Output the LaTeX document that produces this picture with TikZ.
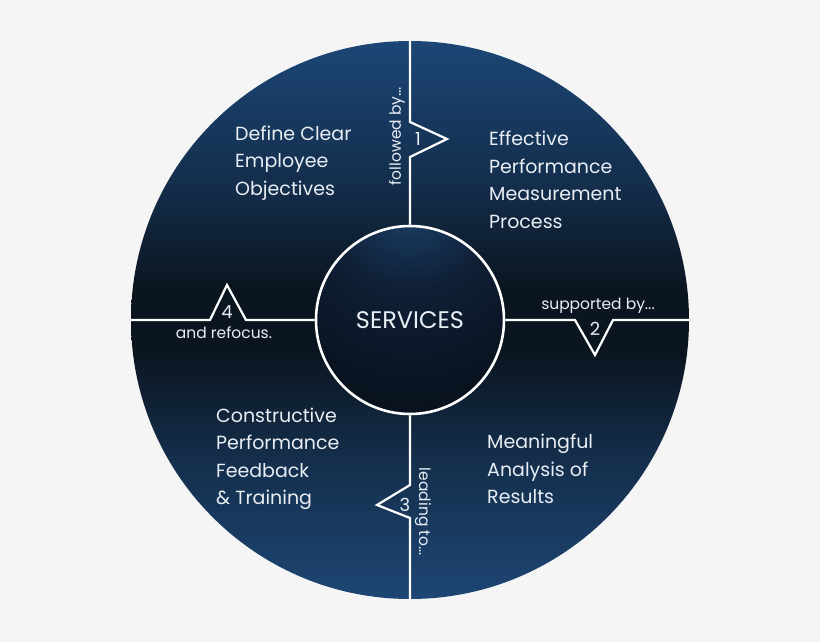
\documentclass[tikz,border=0pt]{standalone}
\usepackage{fontspec}
\setmainfont{Poppins}
\usepackage{xcolor}
\usetikzlibrary{positioning}
\definecolor{pagegray}{HTML}{F5F5F5}
\definecolor{ringtop}{HTML}{1C4676}
\definecolor{ringmid}{HTML}{0B1520}
\definecolor{ringbottom}{HTML}{1D4674}
\definecolor{hubglow}{HTML}{1F4B7A}
\definecolor{hubmid}{HTML}{0F1F35}
\definecolor{hubdark}{HTML}{04080D}
\definecolor{softwhite}{HTML}{E8EEF4}
\pgfdeclareverticalshading{ringshade}{100bp}{color(0bp)=(ringbottom); color(25bp)=(ringbottom); color(38bp)=(ringbottom!50!ringmid); color(47bp)=(ringmid); color(53bp)=(ringmid); color(62bp)=(ringtop!50!ringmid); color(75bp)=(ringtop); color(100bp)=(ringtop)}
\pgfdeclareradialshading{hubshade}{\pgfpoint{0bp}{38bp}}{color(0bp)=(hubglow); color(22bp)=(hubmid); color(60bp)=(hubdark); color(100bp)=(hubdark)}

\begin{document}
\begin{tikzpicture}[
        x=1pt, y=-1pt,
        ring/.style={circle, minimum size=558pt, inner sep=0pt, shade, shading=ringshade},
        hub/.style={circle, draw=white, line width=2.6pt, minimum size=188pt,
                    inner sep=0pt, shade, shading=hubshade, text=softwhite,
                    font=\fontsize{24}{28}\selectfont},
        link/.style={draw=white, line width=2.2pt, line join=miter},
        stage/.style={align=left, anchor=west, inner sep=0pt, text=softwhite,
                      font=\fontsize{19}{27.5}\selectfont},
        cue/.style={inner sep=0pt, text=softwhite, font=\fontsize{15.5}{18}\selectfont},
        num/.style={inner sep=0pt, text=softwhite, font=\fontsize{18}{20}\selectfont}
    ]
        \fill[pagegray] (0,0) rectangle (820,642);
        \useasboundingbox (0,0) rectangle (820,642);

        \node[ring] (ring) at (410,320) {};
        \node[hub]  (hub)  at (410,320) {SERVICES};

        % spokes with their step bumps
        \draw[link] (hub.north) -- (410,157) -- (447,139) -- (410,122) -- (ring.north);
        \draw[link] (hub.east)  -- (575,320) -- (595,355) -- (613,320) -- (ring.east);
        \draw[link] (hub.south) -- (410,485) -- (377,505) -- (410,518) -- (ring.south);
        \draw[link] (hub.west)  -- (246,320) -- (227,285) -- (210,320) -- (ring.west);

        \node[cue, rotate=90]  (cue1) at (397,136) {followed by...};
        \node[num]             (num1) at (418,139) {1};
        \node[cue]             (cue2) at (598,306) {supported by...};
        \node[num]             (num2) at (595,329) {2};
        \node[num]             (num3) at (405,505) {3};
        \node[cue, rotate=-90] (cue3) at (423,512) {leading to...};
        \node[num]             (num4) at (227,312) {4};
        \node[cue]             (cue4) at (224,333) {and refocus.};

        \node[stage] (define)   at (235,163) {Define Clear\\Employee\\Objectives};
        \node[stage] (measure)  at (489,180) {Effective\\Performance\\Measurement\\Process};
        \node[stage] (analysis) at (487,469) {Meaningful\\Analysis of\\Results};
        \node[stage] (feedback) at (216,459) {Constructive\\Performance\\Feedback\\\& Training};
    \end{tikzpicture}
\end{document}
